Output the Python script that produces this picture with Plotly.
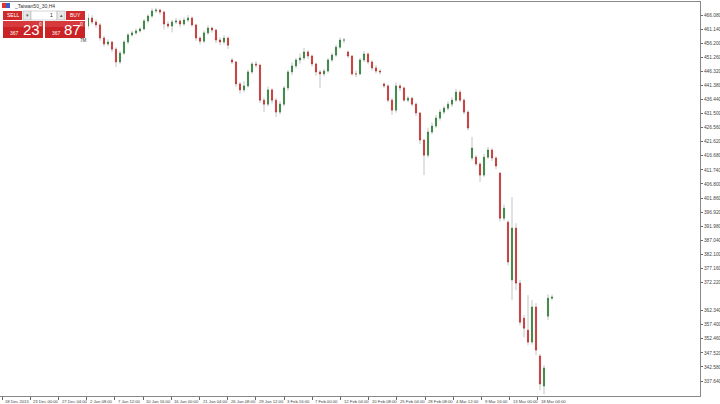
import plotly.graph_objects as go

# ---- data ----
opens = [462.2, 465.0, 463.6, 462.6, 458.0, 455.9, 456.6, 454.1, 449.6, 452.7,
 456.6, 459.1, 459.8, 460.5, 461.2, 464.0, 465.7, 467.5, 467.8, 467.1,
 462.9, 462.2, 463.6, 464.0, 462.9, 464.3, 465.0, 462.6, 458.0, 456.9,
 459.8, 461.5, 460.8, 457.3, 456.6, 458.0, 450.3, 449.6, 441.9, 439.8,
 441.2, 446.1, 448.9, 448.5, 436.2, 434.8, 439.8, 436.2, 432.0, 434.8,
 440.5, 446.1, 448.2, 450.3, 451.0, 453.1, 451.7, 448.9, 446.1, 445.4,
 446.4, 450.3, 452.0, 454.8, 457.3, 453.1, 451.7, 445.4, 445.4, 450.3,
 452.4, 449.6, 447.5, 446.4, 441.9, 441.2, 436.2, 432.7, 441.2, 440.5,
 436.2, 436.9, 434.8, 431.7, 422.2, 416.9, 425.0, 427.1, 429.9, 432.0,
 433.4, 434.8, 436.2, 439.0, 436.2, 432.0, 415.9, 416.2, 413.8, 409.9,
 416.2, 418.7, 415.9, 410.6, 394.8, 393.4, 373.1, 391.3, 372.0, 359.7,
 355.5, 351.3, 363.6, 346.4, 335.9, 360.4, 366.7]

closes = [465.0, 463.6, 462.6, 458.0, 455.9, 456.6, 454.1, 449.6, 452.7, 456.6,
 459.1, 459.8, 460.5, 461.2, 464.0, 465.7, 467.5, 467.8, 467.1, 462.9,
 462.2, 463.6, 464.0, 462.9, 464.3, 465.0, 462.6, 458.0, 456.9, 459.8,
 461.5, 460.8, 457.3, 456.6, 458.0, 455.5, 449.6, 441.9, 439.8, 441.2,
 446.1, 448.9, 448.5, 436.2, 434.8, 439.8, 436.2, 432.0, 434.8, 440.5,
 446.1, 448.2, 450.3, 451.0, 453.1, 451.7, 448.9, 446.1, 445.4, 446.4,
 450.3, 452.0, 454.8, 457.3, 457.3, 451.7, 445.4, 445.4, 450.3, 452.4,
 449.6, 447.5, 446.4, 446.1, 441.2, 436.2, 432.7, 441.2, 440.5, 436.2,
 436.9, 434.8, 431.7, 422.2, 416.9, 425.0, 427.1, 429.9, 432.0, 433.4,
 434.8, 436.2, 439.0, 436.2, 432.0, 426.4, 419.4, 413.8, 409.9, 416.2,
 418.7, 415.9, 413.1, 394.8, 398.3, 379.4, 391.3, 372.0, 358.3, 356.2,
 351.3, 363.6, 348.5, 336.6, 342.2, 366.7, 367.1]

highs = [466.5, 466.0, 464.5, 463.2, 458.8, 457.5, 457.0, 454.8, 453.5, 457.2,
 459.8, 460.6, 461.3, 461.8, 464.6, 466.4, 468.4, 468.6, 468.3, 467.6,
 463.8, 464.5, 465.0, 464.6, 465.2, 466.0, 465.6, 463.0, 458.6, 460.6,
 462.4, 462.0, 461.3, 458.2, 459.0, 458.6, 451.0, 450.0, 442.6, 442.8,
 446.9, 449.6, 449.8, 449.0, 437.0, 441.0, 440.4, 437.0, 435.8, 441.2,
 446.8, 449.5, 451.0, 452.5, 454.6, 453.8, 452.2, 449.4, 446.8, 447.2,
 451.0, 452.8, 455.6, 458.2, 458.0, 453.6, 452.0, 446.6, 451.0, 453.4,
 453.0, 450.2, 448.5, 447.0, 442.4, 441.8, 437.0, 442.4, 442.0, 441.0,
 437.6, 437.4, 435.4, 432.0, 422.6, 426.5, 428.4, 431.0, 433.0, 434.2,
 435.8, 437.2, 440.2, 439.8, 436.8, 432.6, 423.3, 417.0, 414.4, 417.4,
 419.8, 419.4, 416.6, 411.0, 399.6, 394.0, 402.2, 393.0, 373.2, 360.8,
 367.8, 366.0, 365.0, 347.2, 343.2, 368.1, 368.0]

lows = [461.0, 462.8, 461.6, 457.0, 455.0, 455.2, 453.0, 447.8, 448.9, 452.0,
 455.8, 458.4, 459.0, 459.9, 460.6, 463.2, 465.0, 466.8, 466.2, 461.0,
 461.4, 460.0, 462.9, 461.8, 462.2, 463.5, 461.9, 457.0, 455.8, 456.2,
 459.0, 459.9, 456.2, 455.5, 455.8, 454.2, 448.8, 440.8, 438.5, 439.0,
 440.6, 445.4, 447.6, 435.2, 432.0, 434.0, 435.0, 430.3, 431.2, 434.0,
 439.6, 445.0, 447.4, 449.0, 450.2, 450.6, 448.0, 444.8, 440.4, 444.6,
 445.8, 449.6, 451.4, 454.2, 456.2, 451.0, 444.8, 444.2, 444.9, 449.6,
 448.8, 446.6, 445.6, 445.2, 440.4, 435.4, 431.0, 431.8, 439.4, 435.6,
 435.4, 434.0, 430.6, 420.8, 409.9, 416.0, 424.2, 426.4, 429.0, 431.2,
 432.6, 433.8, 435.6, 435.4, 431.2, 425.5, 415.0, 413.0, 407.5, 409.2,
 415.6, 414.8, 412.0, 393.6, 393.8, 378.2, 366.0, 369.5, 357.2, 353.0,
 350.2, 350.4, 346.7, 334.4, 333.0, 359.0, 366.0]

x_labels = ["18 Dec 2015", "23 Dec 00:00", "27 Dec 04:00", "2 Jan 08:00", "7 Jan 12:00",
            "10 Jan 16:00", "16 Jan 00:00", "21 Jan 04:00", "26 Jan 08:00", "29 Jan 12:00",
            "3 Feb 16:00", "7 Feb 00:00", "12 Feb 04:00", "20 Feb 08:00", "25 Feb 04:00",
            "28 Feb 08:00", "4 Mar 12:00", "9 Mar 16:00", "13 Mar 00:00", "18 Mar 04:00"]

y_ticks = [337.64, 342.58, 347.52, 352.46, 357.40, 362.34, 372.22, 377.16, 382.10,
           387.04, 391.98, 396.92, 401.86, 406.80, 411.74, 416.68, 421.62, 426.56,
           431.50, 436.44, 441.38, 446.32, 451.26, 456.20, 461.14, 466.08]

bar_idx = list(range(len(closes)))
body_hi = [max(o, c) for o, c in zip(opens, closes)]
body_lo = [min(o, c) for o, c in zip(opens, closes)]

GREEN = "#1f7a2c"
RED = "#c8201f"
WICK = "#c4c4c4"

fig = go.Figure()
# wicks
fig.add_trace(go.Candlestick(
    x=bar_idx, open=opens, high=highs, low=lows, close=closes,
    increasing=dict(line=dict(color=WICK, width=1), fillcolor=WICK),
    decreasing=dict(line=dict(color=WICK, width=1), fillcolor=WICK),
    whiskerwidth=0, showlegend=False, hoverinfo="skip"))
# bodies
fig.add_trace(go.Candlestick(
    x=bar_idx, open=opens, high=body_hi, low=body_lo, close=closes,
    increasing=dict(line=dict(color=GREEN, width=0.5), fillcolor=GREEN),
    decreasing=dict(line=dict(color=RED, width=0.5), fillcolor=RED),
    whiskerwidth=0, showlegend=False))

# plot-area geometry (pixels)
ML, MR, MT, MB = 0, 20, 2, 8
PW, PH = 720 - ML - MR, 404 - MT - MB

def X(px):
    return (px - ML) / PW

def Y(py):
    return 1 - (py - MT) / PH

# x ticks (bar index positions)
tick_pos = [-21.5 + 7.05 * k for k in range(len(x_labels))]

shapes = []
annotations = []
for tp, lab in zip(tick_pos, x_labels):
    annotations.append(dict(x=tp + 0.3, y=Y(396.5), xref="x", yref="paper", text=lab,
                            showarrow=False, xanchor="left", yanchor="top",
                            font=dict(size=4.2, color="#444", family="Liberation Sans")))

# trading panel
RED_BTN = "#cf2a2c"
def rect(x0, y0, x1, y1, fill, line="rgba(0,0,0,0)", lw=0):
    shapes.append(dict(type="rect", xref="paper", yref="paper", x0=X(x0), x1=X(x1),
                       y0=Y(y1), y1=Y(y0), fillcolor=fill, line=dict(color=line, width=lw),
                       layer="above"))

def text(px, py, t, size, color, anchor="left", fam="Liberation Sans"):
    annotations.append(dict(x=X(px), y=Y(py), xref="paper", yref="paper", text=t,
                            showarrow=False, xanchor=anchor, yanchor="middle",
                            font=dict(size=size, color=color, family=fam)))

rect(0, 3, 88, 44, "white")
# icon + title
rect(2, 3, 6, 8, "#d33")
rect(6, 3, 10, 8, "#3a5fcd")
text(12, 5.5, "_Taiwan50_30,H4", 5, "#333")
# buttons row
rect(3, 11, 22, 20, RED_BTN)
text(12.5, 15.5, "SELL", 5, "white", "center")
rect(23, 11, 31, 20, "#e8e8e8", "#aaa", 0.5)
text(27, 15.5, "▾", 5, "#555", "center")
rect(31, 11, 57, 20, "white", "#aaa", 0.5)
text(55, 15.5, "1", 5, "#222", "right")
rect(57, 11, 65, 20, "#e8e8e8", "#aaa", 0.5)
text(61, 15.5, "▴", 5, "#555", "center")
rect(66, 11, 85, 20, RED_BTN)
text(75.5, 15.5, "BUY", 5, "white", "center")
# price boxes
rect(3, 21, 43, 38, "#c92326")
rect(3, 21, 43, 27, "#d63a3c")
rect(45, 21, 85, 38, "#c92326")
rect(45, 21, 85, 27, "#d63a3c")
text(8, 32.5, "367", 5, "white")
text(21, 29.5, "23", 15, "white")
text(37, 24.5, "0", 5, "white")
text(50, 32.5, "367", 5, "white")
text(62, 29.5, "87", 15, "white")
text(78, 24.5, "0", 5, "white")
text(78, 40.5, "7M", 4.5, "#333")

fig.update_layout(
    width=720, height=404,
    margin=dict(l=ML, r=MR, t=MT, b=MB, autoexpand=False),
    paper_bgcolor="white", plot_bgcolor="white",
    showlegend=False, boxgap=0.6,
    shapes=shapes, annotations=annotations,
    xaxis=dict(range=[-22, 153], rangeslider=dict(visible=False), showgrid=False,
               zeroline=False, tickmode="array", tickvals=tick_pos, ticktext=[""] * len(tick_pos),
               ticks="outside", ticklen=3, tickcolor="#666", showline=True,
               linecolor="#888", linewidth=1, mirror=True, fixedrange=True, automargin=False),
    yaxis=dict(range=[332.39, 470.64], side="right", showgrid=False, zeroline=False,
               tickmode="array", tickvals=y_ticks, ticktext=[f"{v:.3f}" for v in y_ticks],
               ticks="outside", ticklen=2, tickcolor="#666", showline=True,
               linecolor="#888", linewidth=1, mirror=True, automargin=False,
               tickfont=dict(size=4.8, color="#444", family="Liberation Sans")),
)

fig.write_html("out.html", config={"displayModeBar": False},
               post_script="document.body.style.margin='0';document.body.style.overflow='hidden';window.dispatchEvent(new Event('resize'));")
